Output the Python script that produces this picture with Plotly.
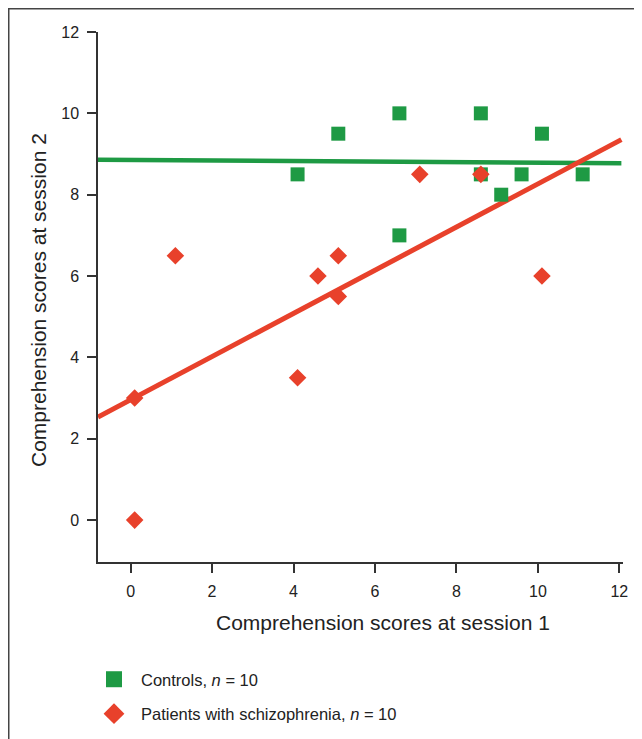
import numpy as np
import plotly.graph_objects as go

# Data
controls_x = [4.1, 5.1, 6.6, 6.6, 8.6, 8.6, 9.1, 9.6, 10.1, 11.1]
controls_y = [8.5, 9.5, 10.0, 7.0, 10.0, 8.5, 8.0, 8.5, 9.5, 8.5]
patients_x = [0.1, 0.1, 1.1, 4.1, 4.6, 5.1, 5.1, 7.1, 8.6, 10.1]
patients_y = [3.0, 0.0, 6.5, 3.5, 6.0, 6.5, 5.5, 8.5, 8.5, 6.0]
tick_vals = [0, 2, 4, 6, 8, 10, 12]
controls_label = "Controls, <i>n</i> = 10"
patients_label = "Patients with schizophrenia, <i>n</i> = 10"
x_title = "Comprehension scores at session 1"
y_title = "Comprehension scores at session 2"

GREEN = "#1e9a44"
RED = "#e8412b"
TXT = "#222222"
FONT = "Liberation Sans, Arial, Helvetica, sans-serif"
X_RANGE = [-0.8, 12.09]
Y_RANGE = [-1.03, 12.0]
FIT_X = [-0.8, 12.05]

W, H = 634, 731  # page body adds an 8px margin
L, R, T, B = 90, 19, 24, 177
PW, PH = W - L - R, H - T - B

# least-squares fit lines from the data
c_slope, c_int = np.polyfit(controls_x, controls_y, 1)
p_slope, p_int = np.polyfit(patients_x, patients_y, 1)
fx = np.array(FIT_X)

fig = go.Figure()
fig.add_trace(go.Scatter(x=fx, y=c_int + c_slope * fx, mode="lines",
                         line=dict(color=GREEN, width=4.5), showlegend=False,
                         hoverinfo="skip"))
fig.add_trace(go.Scatter(x=fx, y=p_int + p_slope * fx, mode="lines",
                         line=dict(color=RED, width=5), showlegend=False,
                         hoverinfo="skip"))
fig.add_trace(go.Scatter(x=controls_x, y=controls_y, mode="markers",
                         marker=dict(symbol="square", size=14, color=GREEN),
                         showlegend=False, name=controls_label))
fig.add_trace(go.Scatter(x=patients_x, y=patients_y, mode="markers",
                         marker=dict(symbol="diamond", size=13.5, color=RED),
                         showlegend=False, name=patients_label))
# legend entries
fig.add_trace(go.Scatter(x=[None], y=[None], mode="markers",
                         marker=dict(symbol="square", size=16, color=GREEN),
                         name=controls_label, legendgroup="c"))
fig.add_trace(go.Scatter(x=[None], y=[None], mode="markers",
                         marker=dict(symbol="diamond", size=16, color=RED),
                         name=patients_label, legendgroup="p"))

axis_common = dict(
    showline=True, linecolor="#333333", linewidth=1.5,
    ticks="outside", ticklen=9, tickwidth=1.5, tickcolor="#333333",
    showgrid=False, zeroline=False, tickvals=tick_vals,
    tickfont=dict(family=FONT, size=16, color=TXT),
    ticklabelstandoff=5,
)
fig.update_xaxes(range=X_RANGE, **axis_common)
fig.update_yaxes(range=Y_RANGE, **axis_common)

fig.update_layout(
    width=W, height=H,
    margin=dict(l=L, r=R, t=T, b=B, autoexpand=False),
    paper_bgcolor="white", plot_bgcolor="white",
    font=dict(family=FONT, color=TXT),
    legend=dict(xref="container", yref="container", x=79 / W, y=1 - 654 / H,
                xanchor="left", yanchor="top", tracegroupgap=10,
                itemwidth=44,
                font=dict(family=FONT, size=16.5, color=TXT),
                bgcolor="rgba(0,0,0,0)"),
    annotations=[
        dict(text=x_title, xref="paper", yref="paper",
             x=(375 - L) / PW, y=(H - B - 614) / PH, showarrow=False,
             xanchor="center", yanchor="middle",
             font=dict(family=FONT, size=21, color=TXT)),
        dict(text=y_title, xref="paper", yref="paper", textangle=-90,
             x=(30 - L) / PW, y=(H - B - 292) / PH, showarrow=False,
             xanchor="center", yanchor="middle",
             font=dict(family=FONT, size=21, color=TXT)),
    ],
    shapes=[dict(type="rect", xref="paper", yref="paper",
                 x0=(0.75 - L) / PW, x1=1.2, y0=-0.5, y1=(H - B - 0.75) / PH,
                 line=dict(color="#444444", width=1.5), layer="below")],
)

fig.write_html("out.html")
